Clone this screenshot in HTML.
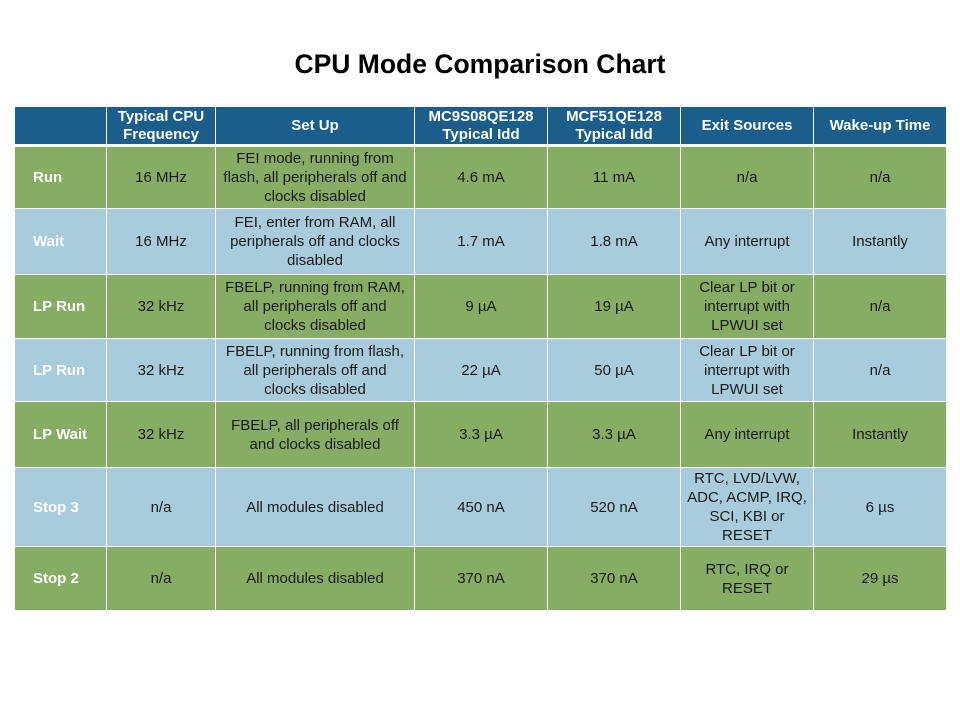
<!DOCTYPE html>
<html><head><style>
body{margin:0;width:960px;height:720px;background:#fff;font-family:"Liberation Sans",sans-serif;position:relative;overflow:hidden}
h1{position:absolute;top:49px;left:0;width:960px;text-align:center;font-size:26.5px;margin:0;color:#000;font-weight:bold}
.c{position:absolute;box-sizing:border-box;display:flex;align-items:center;justify-content:center;text-align:center;font-size:15px;line-height:19px;color:#1a1a1a;border-right:1px solid #fff;border-bottom:1px solid #fff;white-space:nowrap}
.h{background:#1b5e8c;color:#fff;font-weight:bold;font-size:15px;line-height:18px}
.g{background:#87ad64}
.b{background:#a8ccdc}
.f{color:#fff;font-weight:bold;justify-content:flex-start;padding-left:18px}
</style></head><body>
<h1>CPU Mode Comparison Chart</h1>
<div id="t"></div>
<script>
var xs=[15,107,216,415,548,681,814,947];
var ys=[107,147,209,275,339,402,468,547,611];
var rows=[
["h",["","Typical CPU<br>Frequency","Set Up","MC9S08QE128<br>Typical Idd","MCF51QE128<br>Typical Idd","Exit Sources","Wake-up Time"]],
["g",["Run","16 MHz","FEI mode, running from<br>flash, all peripherals off and<br>clocks disabled","4.6 mA","11 mA","n/a","n/a"]],
["b",["Wait","16 MHz","FEI, enter from RAM, all<br>peripherals off and clocks<br>disabled","1.7 mA","1.8 mA","Any interrupt","Instantly"]],
["g",["LP Run","32 kHz","FBELP, running from RAM,<br>all peripherals off and<br>clocks disabled","9 µA","19 µA","Clear LP bit or<br>interrupt with<br>LPWUI set","n/a"]],
["b",["LP Run","32 kHz","FBELP, running from flash,<br>all peripherals off and<br>clocks disabled","22 µA","50 µA","Clear LP bit or<br>interrupt with<br>LPWUI set","n/a"]],
["g",["LP Wait","32 kHz","FBELP, all peripherals off<br>and clocks disabled","3.3 µA","3.3 µA","Any interrupt","Instantly"]],
["b",["Stop 3","n/a","All modules disabled","450 nA","520 nA","RTC, LVD/LVW,<br>ADC, ACMP, IRQ,<br>SCI, KBI or<br>RESET","6 µs"]],
["g",["Stop 2","n/a","All modules disabled","370 nA","370 nA","RTC, IRQ or<br>RESET","29 µs"]]];
var h="";
rows.forEach(function(r,i){r[1].forEach(function(t,j){
var cls="c "+r[0]+(i>0&&j==0?" f":"");
var bb=i==0?"border-bottom:3px solid #fff;":"";
h+='<div class="'+cls+'" style="'+bb+'left:'+xs[j]+'px;top:'+ys[i]+'px;width:'+(xs[j+1]-xs[j])+'px;height:'+(ys[i+1]-ys[i])+'px">'+t+'</div>';});});
document.getElementById("t").innerHTML=h;
</script>
</body></html>
